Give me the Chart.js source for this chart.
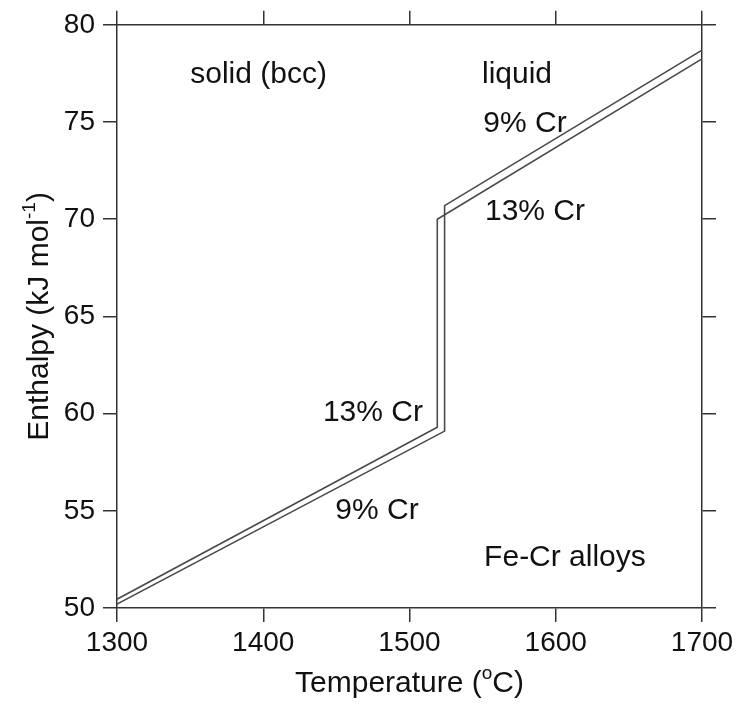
<!DOCTYPE html>
<html>
<head>
<meta charset="utf-8">
<script src="https://cdn.jsdelivr.net/npm/chart.js@4/dist/chart.umd.min.js"></script>
<style>
  html, body { margin: 0; padding: 0; background: #fff; }
  canvas { display: block; }
</style>
</head>
<body>
<canvas id="myChart" width="742" height="704"></canvas>
<script>
// Enthalpy of Fe-Cr alloys vs temperature
var temp13 = [1300, 1519, 1519, 1700];
var enth13 = [50.45, 59.3, 70.0, 78.25];
var temp9 = [1300, 1524, 1524, 1700];
var enth9 = [50.2, 59.1, 70.7, 78.7];

// axis ranges / ticks
var xTicks = [1300, 1400, 1500, 1600, 1700];
var yTicks = [50, 55, 60, 65, 70, 75, 80];

// text labels placed in data coordinates
var noteText = ["solid (bcc)", "liquid", "9% Cr", "13% Cr", "13% Cr", "9% Cr", "Fe-Cr alloys"];
var noteX = [1396.8, 1573.5, 1579, 1585.8, 1475, 1477.8, 1606.3];
var noteY = [77.44, 77.44, 74.93, 70.4, 60.03, 55.02, 52.61];

var FONT = '"Liberation Sans", Arial, sans-serif';
var INK = "#111";
var AXIS = "#333";

function toPoints(xs, ys) {
  return xs.map(function (x, i) { return { x: x, y: ys[i] }; });
}

// draws text pieces, some of them as superscripts, centred on x
function drawRich(ctx, parts, x, y, size) {
  var supSize = Math.round(size * 0.62);
  var total = 0;
  parts.forEach(function (p) {
    ctx.font = (p.sup ? supSize : size) + "px " + FONT;
    p.w = ctx.measureText(p.t).width;
    total += p.w;
  });
  var cx = x - total / 2;
  ctx.textAlign = "left";
  ctx.textBaseline = "alphabetic";
  parts.forEach(function (p) {
    ctx.font = (p.sup ? supSize : size) + "px " + FONT;
    ctx.fillText(p.t, cx, p.sup ? y - size * 0.42 : y);
    cx += p.w;
  });
}

var extras = {
  id: "extras",
  afterDraw: function (chart) {
    var ctx = chart.ctx;
    var xs = chart.scales.x, ys = chart.scales.y;
    var area = chart.chartArea;
    ctx.save();
    ctx.fillStyle = INK;

    // notes on the plot
    ctx.font = "30px " + FONT;
    ctx.textAlign = "center";
    ctx.textBaseline = "middle";
    noteText.forEach(function (t, i) {
      ctx.fillText(t, xs.getPixelForValue(noteX[i]), ys.getPixelForValue(noteY[i]));
    });

    // x axis title
    drawRich(ctx, [{ t: "Temperature (" }, { t: "o", sup: true }, { t: "C)" }],
      (area.left + area.right) / 2, 692, 30);

    // y axis title
    ctx.save();
    ctx.translate(48, (area.top + area.bottom) / 2);
    ctx.rotate(-Math.PI / 2);
    drawRich(ctx, [{ t: "Enthalpy (kJ mol" }, { t: "-1", sup: true }, { t: ")" }], 0, 0, 30);
    ctx.restore();

    ctx.restore();
  }
};

function axisOpts(pos, min, max, step, size, showLabels) {
  return {
    type: "linear",
    position: pos,
    min: min,
    max: max,
    afterBuildTicks: function (s) {
      var vals = (pos === "left" || pos === "right") ? yTicks : xTicks;
      s.ticks = vals.map(function (v) { return { value: v }; });
    },
    ticks: {
      display: showLabels,
      stepSize: step,
      color: INK,
      font: { family: FONT, size: 28 },
      padding: pos === "left" ? 8 : 4,
      callback: function (v) { return String(v); }
    },
    grid: {
      drawOnChartArea: false,
      drawTicks: true,
      tickLength: 14,
      color: AXIS,
      lineWidth: 1.5
    },
    border: { display: true, color: AXIS, width: 1.5 },
    afterFit: function (s) {
      if (pos === "left" || pos === "right") s.width = size;
      else s.height = size;
    }
  };
}

var ctx = document.getElementById("myChart").getContext("2d");

var myChart = new Chart(ctx, {
  type: "scatter",
  data: {
    datasets: [
      {
        label: "13% Cr",
        data: toPoints(temp13, enth13),
        showLine: true,
        borderColor: "#4a4a4a",
        borderWidth: 1.6,
        pointRadius: 0,
        tension: 0
      },
      {
        label: "9% Cr",
        data: toPoints(temp9, enth9),
        showLine: true,
        borderColor: "#4a4a4a",
        borderWidth: 1.6,
        pointRadius: 0,
        tension: 0
      }
    ]
  },
  options: {
    responsive: false,
    animation: false,
    layout: { padding: 0 },
    plugins: {
      legend: { display: false },
      tooltip: { enabled: false }
    },
    scales: {
      x: axisOpts("bottom", 1300, 1700, 100, 96, true),
      x2: axisOpts("top", 1300, 1700, 100, 22, false),
      y: axisOpts("left", 50, 80, 5, 117, true),
      y2: axisOpts("right", 50, 80, 5, 40, false)
    }
  },
  plugins: [extras]
});
</script>
</body>
</html>
